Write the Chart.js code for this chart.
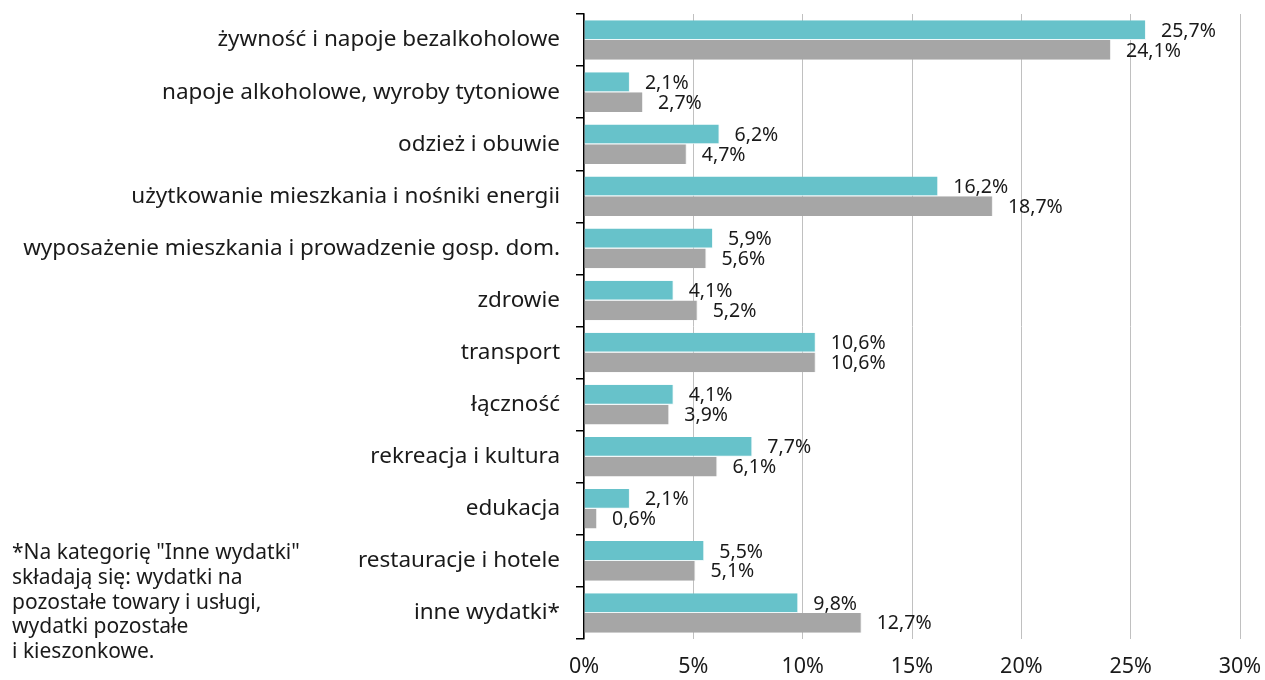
<!DOCTYPE html>
<html>
<head>
<meta charset="utf-8">
<script src="https://cdn.jsdelivr.net/npm/chart.js@4"></script>
<style>
  body { margin: 0; background: #fff; }
  #wrap { position: relative; width: 1265px; height: 680px; }
  #przypis {
    position: absolute; left: 12px; top: 539px;
    font-family: "Noto Sans", sans-serif; font-size: 21px; line-height: 24.8px;
    color: #1a1a1a;
  }
</style>
</head>
<body>
<div id="wrap">
  <canvas id="chartId" width="1265" height="680"></canvas>
  <div id="przypis">*Na kategorię "Inne wydatki"<br>składają się: wydatki na<br>pozostałe towary i usługi,<br>wydatki pozostałe<br>i kieszonkowe.</div>
</div>
<script>
var kategorie = [
  "żywność i napoje bezalkoholowe",
  "napoje alkoholowe, wyroby tytoniowe",
  "odzież i obuwie",
  "użytkowanie mieszkania i nośniki energii",
  "wyposażenie mieszkania i prowadzenie gosp. dom.",
  "zdrowie",
  "transport",
  "łączność",
  "rekreacja i kultura",
  "edukacja",
  "restauracje i hotele",
  "inne wydatki*"
];
var seriaTurkus = [25.7, 2.1, 6.2, 16.2, 5.9, 4.1, 10.6, 4.1, 7.7, 2.1, 5.5, 9.8];
var seriaSzara = [24.1, 2.7, 4.7, 18.7, 5.6, 5.2, 10.6, 3.9, 6.1, 0.6, 5.1, 12.7];
var osX = [0, 5, 10, 15, 20, 25, 30];

var czcionka = "'Noto Sans', sans-serif";

// etykiety z wartosciami obok slupkow
var etykiety = {
  id: "etykiety",
  afterDatasetsDraw: function (chart) {
    var ctx = chart.ctx;
    ctx.save();
    ctx.font = "19.5px " + czcionka;
    ctx.fillStyle = "#1a1a1a";
    ctx.textAlign = "left";
    ctx.textBaseline = "middle";
    chart.data.datasets.forEach(function (ds, i) {
      chart.getDatasetMeta(i).data.forEach(function (bar, j) {
        var txt = ds.data[j].toFixed(1).replace(".", ",") + "%";
        ctx.fillText(txt, bar.x + 15, bar.y + 1);
      });
    });
    ctx.restore();
  }
};

var chrt = document.getElementById("chartId").getContext("2d");
var wykres = new Chart(chrt, {
  type: "bar",
  data: {
    labels: kategorie,
    datasets: [
      {
        data: seriaTurkus,
        backgroundColor: "#67c2ca",
        borderColor: "#eef8f9",
        borderWidth: { right: 1, bottom: 1 },
        categoryPercentage: 0.76,
        barPercentage: 1
      },
      {
        data: seriaSzara,
        backgroundColor: "#a6a6a6",
        borderColor: "#eeeeee",
        borderWidth: { right: 1, top: 0 },
        categoryPercentage: 0.76,
        barPercentage: 1
      }
    ]
  },
  options: {
    indexAxis: "y",
    responsive: false,
    animation: false,
    layout: { padding: { top: 14, right: 25, left: 0, bottom: 0 } },
    plugins: {
      legend: { display: false },
      tooltip: { enabled: false }
    },
    scales: {
      x: {
        min: osX[0],
        max: osX[osX.length - 1],
        afterBuildTicks: function (scale) {
          scale.ticks = osX.map(function (v) { return { value: v }; });
        },
        afterFit: function (scale) {
          scale.height = 41;
          scale.paddingLeft = 0;
          scale.paddingRight = 0;
        },
        grid: { color: "#c0c0c0", lineWidth: 1, drawTicks: false },
        border: { display: false },
        ticks: {
          padding: 15,
          color: "#1a1a1a",
          font: { family: czcionka, size: 21.5 },
          callback: function (v) { return v + "%"; }
        }
      },
      y: {
        afterFit: function (scale) {
          scale.width = 584;
          scale.paddingTop = 0;
          scale.paddingBottom = 0;
        },
        grid: {
          drawOnChartArea: false,
          drawTicks: true,
          tickLength: 8,
          color: "#000",
          lineWidth: 1.5
        },
        border: { display: true, color: "#000", width: 1.5 },
        ticks: {
          padding: 16,
          color: "#1a1a1a",
          font: { family: czcionka, size: 22.5 }
        }
      }
    }
  },
  plugins: [etykiety]
});
</script>
</body>
</html>
